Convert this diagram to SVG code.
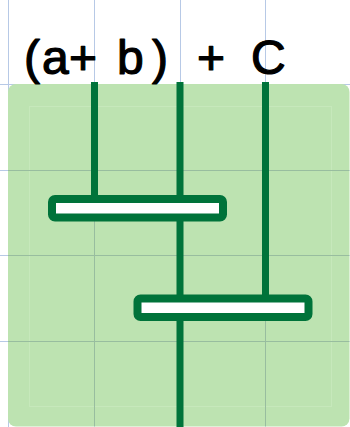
<svg xmlns="http://www.w3.org/2000/svg" width="350" height="427" viewBox="0 0 350 427">
<style>
.grid{stroke:#b7c9e6;stroke-width:1;fill:none}
.gridin{stroke:#98bd9f;stroke-width:1;fill:none}
.wire{stroke:#00733a;stroke-width:7;fill:none}
.box{fill:#ffffff;stroke:#00733a;stroke-width:8}
.hand{font-family:"Liberation Sans",Arial,sans-serif;font-size:48px;fill:#000;stroke:#000;stroke-width:1.2;stroke-linejoin:round}
</style>
<rect width="350" height="427" fill="#ffffff"/>
<g id="grid">
<line class="grid" x1="8.5" y1="0" x2="8.5" y2="427"/>
<line class="grid" x1="94.5" y1="0" x2="94.5" y2="427"/>
<line class="grid" x1="180.5" y1="0" x2="180.5" y2="427"/>
<line class="grid" x1="265.5" y1="0" x2="265.5" y2="427"/>
<line class="grid" x1="0" y1="84.5" x2="350" y2="84.5"/>
<line class="grid" x1="0" y1="170.5" x2="350" y2="170.5"/>
<line class="grid" x1="0" y1="255.5" x2="350" y2="255.5"/>
<line class="grid" x1="0" y1="341.5" x2="350" y2="341.5"/>
</g>
<g id="panel">
<rect x="8" y="84" width="341.5" height="342.5" rx="8" fill="#bde3b1"/>
<rect x="29.5" y="106.5" width="302" height="300" fill="none" stroke="#c6e8bb" stroke-width="1"/>
<line class="gridin" x1="94.5" y1="84" x2="94.5" y2="426"/>
<line class="gridin" x1="265.5" y1="84" x2="265.5" y2="426"/>
<line class="gridin" x1="8" y1="170.5" x2="349" y2="170.5"/>
<line class="gridin" x1="8" y1="255.5" x2="349" y2="255.5"/>
<line class="gridin" x1="8" y1="341.5" x2="349" y2="341.5"/>
</g>
<g id="label">
<text class="hand" y="74"><tspan x="24">(</tspan><tspan x="42">a</tspan><tspan x="69">+</tspan><tspan x="117">b</tspan><tspan x="152">)</tspan><tspan x="197">+</tspan><tspan x="251">C</tspan></text>
</g>
<g id="connectors">
<line class="wire" x1="94.5" y1="82" x2="94.5" y2="200"/>
<line class="wire" x1="180" y1="82" x2="180" y2="427"/>
<line class="wire" x1="265.5" y1="82" x2="265.5" y2="298"/>
</g>
<g id="gate1">
<rect class="box" x="52" y="199" width="171" height="18.5" rx="3"/>
</g>
<g id="gate2">
<rect class="box" x="137.5" y="298.5" width="171" height="18.5" rx="3"/>
</g>
</svg>
